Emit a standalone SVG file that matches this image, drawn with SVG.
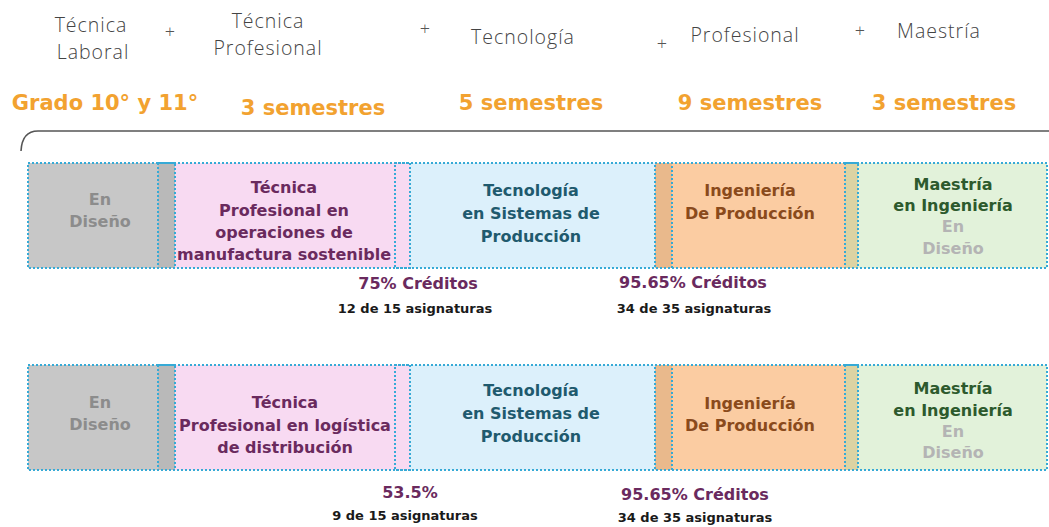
<svg xmlns="http://www.w3.org/2000/svg" width="1049" height="527" viewBox="0 0 1049 527">
<defs>
<style>
.hd{font-family:"Open Sans","Liberation Sans",sans-serif;font-weight:300;font-size:19.5px;letter-spacing:1px;fill:#444;text-anchor:middle}
.pl{font-family:"Open Sans","Liberation Sans",sans-serif;font-weight:300;font-size:18px;fill:#555;text-anchor:middle}
.sem{font-family:"DejaVu Sans","Liberation Sans",sans-serif;font-weight:700;font-size:21px;fill:#f2a230;text-anchor:middle}
.bx{font-family:"DejaVu Sans","Liberation Sans",sans-serif;font-weight:700;font-size:16px;text-anchor:middle}
.gr{fill:#8c8c8c}
.gl{fill:#b4b4b4}
.pk{fill:#6a2a5e}
.bl{fill:#1f5a6e}
.or{fill:#8a4a1c}
.gn{fill:#2d5a2d}
.pct{font-family:"DejaVu Sans","Liberation Sans",sans-serif;font-weight:700;font-size:16px;fill:#6a2a5e;text-anchor:middle}
.asg{font-family:"DejaVu Sans","Liberation Sans",sans-serif;font-weight:700;font-size:13px;fill:#1a1a1a;text-anchor:middle}
.ol{fill:none;stroke:#36aad6;stroke-width:2;stroke-dasharray:2 2}
.br{fill:none;stroke:#555;stroke-width:1.6}
</style>
</defs>
<rect width="1049" height="527" fill="#fff"/>

<g id="header">
<text class="hd" x="91" y="32">Técnica</text>
<text class="hd" x="93" y="59">Laboral</text>
<text class="pl" x="170" y="38">+</text>
<text class="hd" x="268" y="28">Técnica</text>
<text class="hd" x="268" y="55">Profesional</text>
<text class="pl" x="425" y="35">+</text>
<text class="hd" x="523" y="44">Tecnología</text>
<text class="pl" x="662" y="50">+</text>
<text class="hd" x="745" y="42">Profesional</text>
<text class="pl" x="860" y="37">+</text>
<text class="hd" x="939" y="38">Maestría</text>
</g>

<g id="semestres">
<text class="sem" x="105" y="110">Grado 10° y 11°</text>
<text class="sem" x="313" y="115">3 semestres</text>
<text class="sem" x="531" y="110">5 semestres</text>
<text class="sem" x="750" y="110">9 semestres</text>
<text class="sem" x="944" y="110">3 semestres</text>
</g>

<g id="connectors">
<path class="br" d="M21,151 Q22,131 38,131 L1049,131"/>
</g>

<!-- Row 1 -->
<g id="r1-fondos">
<rect x="28" y="163" width="130" height="105" fill="#c7c7c7"/>
<rect x="158" y="163" width="17" height="105" fill="#b9b9b9"/>
<rect x="175" y="163" width="235" height="105" fill="#f8daf2"/>
<rect x="410" y="163" width="245" height="105" fill="#dcf0fb"/>
<rect x="655" y="163" width="17" height="105" fill="#e9b98c"/>
<rect x="672" y="163" width="173" height="105" fill="#fbcca2"/>
<rect x="845" y="163" width="13" height="105" fill="#dcd3a3"/>
<rect x="858" y="163" width="189" height="105" fill="#e2f2da"/>
</g>
<g id="r1-diseno">
<rect class="ol" x="28" y="163" width="147" height="105"/>
<text class="bx gr" x="100" y="205">En</text>
<text class="bx gr" x="100" y="227">Diseño</text>
</g>
<g id="r1-tecnica">
<rect class="ol" x="158" y="163" width="252" height="105"/>
<text class="bx pk" x="284" y="193">Técnica</text>
<text class="bx pk" x="284" y="216">Profesional en</text>
<text class="bx pk" x="284" y="238">operaciones de</text>
<text class="bx pk" x="284" y="260">manufactura sostenible</text>
</g>
<g id="r1-tecnologia">
<rect class="ol" x="395" y="163" width="277" height="105"/>
<text class="bx bl" x="531" y="196">Tecnología</text>
<text class="bx bl" x="531" y="219">en Sistemas de</text>
<text class="bx bl" x="531" y="242">Producción</text>
</g>
<g id="r1-ingenieria">
<rect class="ol" x="655" y="163" width="203" height="105"/>
<text class="bx or" x="750" y="196">Ingeniería</text>
<text class="bx or" x="750" y="219">De Producción</text>
</g>
<g id="r1-maestria">
<rect class="ol" x="845" y="163" width="202" height="105"/>
<text class="bx gn" x="953" y="190">Maestría</text>
<text class="bx gn" x="953" y="211">en Ingeniería</text>
<text class="bx gl" x="953" y="232">En</text>
<text class="bx gl" x="953" y="254">Diseño</text>
</g>
<g id="r1-creditos">
<text class="pct" x="418" y="289">75% Créditos</text>
<text class="asg" x="415" y="313">12 de 15 asignaturas</text>
<text class="pct" x="693" y="288">95.65% Créditos</text>
<text class="asg" x="694" y="313">34 de 35 asignaturas</text>
</g>

<!-- Row 2 -->
<g id="r2-fondos">
<rect x="28" y="365" width="130" height="105" fill="#c7c7c7"/>
<rect x="158" y="365" width="17" height="105" fill="#b9b9b9"/>
<rect x="175" y="365" width="235" height="105" fill="#f8daf2"/>
<rect x="410" y="365" width="245" height="105" fill="#dcf0fb"/>
<rect x="655" y="365" width="17" height="105" fill="#e9b98c"/>
<rect x="672" y="365" width="173" height="105" fill="#fbcca2"/>
<rect x="845" y="365" width="13" height="105" fill="#dcd3a3"/>
<rect x="858" y="365" width="189" height="105" fill="#e2f2da"/>
</g>
<g id="r2-diseno">
<rect class="ol" x="28" y="365" width="147" height="105"/>
<text class="bx gr" x="100" y="408">En</text>
<text class="bx gr" x="100" y="430">Diseño</text>
</g>
<g id="r2-tecnica">
<rect class="ol" x="158" y="365" width="252" height="105"/>
<text class="bx pk" x="285" y="408">Técnica</text>
<text class="bx pk" x="285" y="431">Profesional en logística</text>
<text class="bx pk" x="285" y="453">de distribución</text>
</g>
<g id="r2-tecnologia">
<rect class="ol" x="395" y="365" width="277" height="105"/>
<text class="bx bl" x="531" y="396">Tecnología</text>
<text class="bx bl" x="531" y="419">en Sistemas de</text>
<text class="bx bl" x="531" y="442">Producción</text>
</g>
<g id="r2-ingenieria">
<rect class="ol" x="655" y="365" width="203" height="105"/>
<text class="bx or" x="750" y="409">Ingeniería</text>
<text class="bx or" x="750" y="431">De Producción</text>
</g>
<g id="r2-maestria">
<rect class="ol" x="845" y="365" width="202" height="105"/>
<text class="bx gn" x="953" y="394">Maestría</text>
<text class="bx gn" x="953" y="416">en Ingeniería</text>
<text class="bx gl" x="953" y="437">En</text>
<text class="bx gl" x="953" y="458">Diseño</text>
</g>
<g id="r2-creditos">
<text class="pct" x="410" y="498">53.5%</text>
<text class="asg" x="405" y="520">9 de 15 asignaturas</text>
<text class="pct" x="695" y="500">95.65% Créditos</text>
<text class="asg" x="695" y="522">34 de 35 asignaturas</text>
</g>
</svg>
